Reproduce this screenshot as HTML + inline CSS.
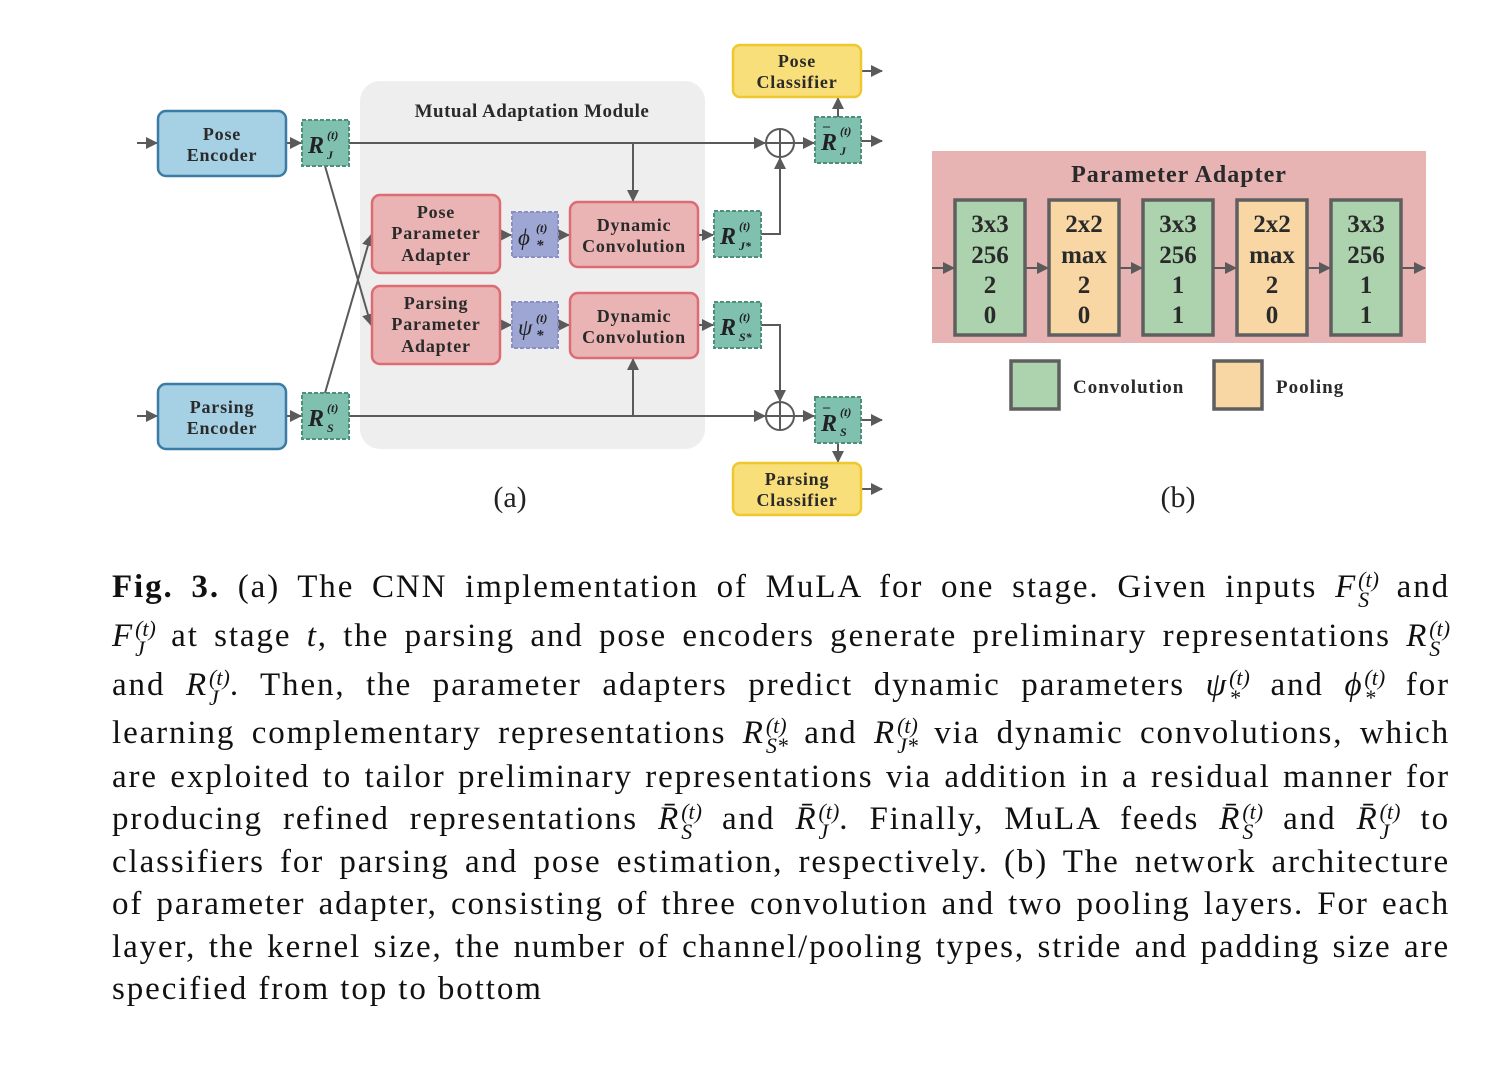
<!DOCTYPE html>
<html><head><meta charset="utf-8">
<style>
body{margin:0;background:#fff;width:1512px;height:1086px;overflow:hidden;position:relative;font-family:"Liberation Serif",serif}
svg{position:absolute;left:0;top:0}
.ln{position:absolute;left:112px;width:1338px;font-size:33px;letter-spacing:1.9px;color:#111;text-align:justify;text-align-last:justify;white-space:nowrap;line-height:40px}
.ln.last{text-align-last:left}
.m{display:inline-block;vertical-align:-10px;line-height:20px;font-size:22px;font-style:italic;margin-left:1px;letter-spacing:0}
.m span{display:block;height:20px}
</style></head><body>
<svg width="1512" height="1086" viewBox="0 0 1512 1086" font-family="Liberation Serif, serif">
<defs>
<marker id="a" markerWidth="12" markerHeight="12" refX="11" refY="6" orient="auto" markerUnits="userSpaceOnUse"><path d="M0,0 L12,6 L0,12z" fill="#5a5a5a"/></marker>
<marker id="b" markerWidth="12" markerHeight="12" refX="11" refY="6" orient="auto" markerUnits="userSpaceOnUse"><path d="M0,0 L12,6 L0,12z" fill="#5a5a5a"/></marker>
</defs>
<rect x="360" y="81" width="345" height="368" rx="20" fill="#eeeeee"/>
<text x="532" y="117" text-anchor="middle" font-weight="bold" font-size="19" fill="#2a2a2a" letter-spacing="0.5">Mutual Adaptation Module</text>
<g stroke="#5a5a5a" stroke-width="2" fill="none" marker-end="url(#b)">
<path d="M137,143 H157"/><path d="M137,416 H157"/>
<path d="M286,143 H301"/><path d="M286,416 H301"/>
<path d="M349,143 H765"/><path d="M633,143 V201"/>
<path d="M349,416 H765"/><path d="M633,416 V359"/>
<path d="M325,166 L371,325"/><path d="M325,393 L371,235"/>
<path d="M500,235 H511"/><path d="M558,235 H569"/><path d="M698,235 H713"/>
<path d="M500,325 H511"/><path d="M558,325 H569"/><path d="M698,325 H713"/>
<path d="M761,234 H780 V158"/><path d="M761,325 H780 V401"/>
<path d="M794,143 H814"/><path d="M794,416 H814"/>
<path d="M838,117 V98"/><path d="M838,443 V462"/>
<path d="M861,141 H882"/><path d="M861,420 H882"/><path d="M861,71 H882"/><path d="M861,489 H882"/>
</g>
<g stroke="#5a5a5a" stroke-width="2" fill="#fff">
<circle cx="780" cy="143" r="14"/><path d="M766,143H794M780,129V157"/>
<circle cx="780" cy="416" r="14"/><path d="M766,416H794M780,402V430"/>
</g>
<g stroke="#3a7ca5" stroke-width="2.5" fill="#a6d0e4">
<rect x="158" y="111" width="128" height="65" rx="8"/><rect x="158" y="384" width="128" height="65" rx="8"/>
</g>
<g stroke="#dc6b73" stroke-width="2.5" fill="#ebb4b4">
<rect x="372" y="195" width="128" height="78" rx="8"/><rect x="372" y="286" width="128" height="78" rx="8"/>
<rect x="570" y="202" width="128" height="65" rx="8"/><rect x="570" y="293" width="128" height="65" rx="8"/>
</g>
<g stroke="#eec82f" stroke-width="2.5" fill="#f9df79">
<rect x="733" y="45" width="128" height="52" rx="7"/><rect x="733" y="463" width="128" height="52" rx="7"/>
</g>
<g stroke="#4e8f7a" stroke-width="2" stroke-dasharray="4,2" fill="#80c0ae">
<rect x="302" y="120" width="47" height="46"/><rect x="302" y="393" width="47" height="46"/>
<rect x="714" y="211" width="47" height="46"/><rect x="714" y="302" width="47" height="46"/>
<rect x="815" y="117" width="46" height="46"/><rect x="815" y="397" width="46" height="46"/>
</g>
<g stroke="#8a8fc8" stroke-width="2" stroke-dasharray="4,2" fill="#9ea6d4">
<rect x="512" y="212" width="46" height="45"/><rect x="512" y="302" width="46" height="46"/>
</g>
<g font-weight="bold" font-size="18" fill="#2a2a2a" text-anchor="middle" letter-spacing="0.8">
<text x="222" y="140">Pose</text><text x="222" y="161">Encoder</text>
<text x="222" y="413">Parsing</text><text x="222" y="434">Encoder</text>
<text x="436" y="218">Pose</text><text x="436" y="239">Parameter</text><text x="436" y="261">Adapter</text>
<text x="436" y="309">Parsing</text><text x="436" y="330">Parameter</text><text x="436" y="352">Adapter</text>
<text x="634" y="231">Dynamic</text><text x="634" y="252">Convolution</text>
<text x="634" y="322">Dynamic</text><text x="634" y="343">Convolution</text>
<text x="797" y="67">Pose</text><text x="797" y="88">Classifier</text>
<text x="797" y="485">Parsing</text><text x="797" y="506">Classifier</text>
</g>
<g font-weight="bold" font-style="italic" fill="#222">
<text x="308" y="153" font-size="24">R</text><text x="327" y="139" font-size="12">(t)</text><text x="327" y="159" font-size="12">J</text>
<text x="308" y="426" font-size="24">R</text><text x="327" y="412" font-size="12">(t)</text><text x="327" y="432" font-size="12">S</text>
<text x="720" y="244" font-size="24">R</text><text x="739" y="230" font-size="12">(t)</text><text x="739" y="250" font-size="12">J*</text>
<text x="720" y="335" font-size="24">R</text><text x="739" y="321" font-size="12">(t)</text><text x="739" y="341" font-size="12">S*</text>
<text x="821" y="150" font-size="24">R</text><text x="823" y="130" font-size="14" font-style="normal">–</text><text x="840" y="135" font-size="12">(t)</text><text x="840" y="155" font-size="12">J</text>
<text x="821" y="431" font-size="24">R</text><text x="823" y="411" font-size="14" font-style="normal">–</text><text x="840" y="416" font-size="12">(t)</text><text x="840" y="436" font-size="12">S</text>
<text x="518" y="245" font-size="23" font-weight="normal">ϕ</text><text x="536" y="232" font-size="12">(t)</text><text x="536" y="250" font-size="15">*</text>
<text x="518" y="335" font-size="23" font-weight="normal">ψ</text><text x="536" y="322" font-size="12">(t)</text><text x="536" y="340" font-size="15">*</text>
</g>
<text x="510" y="507" text-anchor="middle" font-size="30" fill="#222">(a)</text>
<text x="1178" y="507" text-anchor="middle" font-size="30" fill="#222">(b)</text>
<rect x="932" y="151" width="494" height="192" fill="#e8b4b3"/>
<text x="1179" y="182" text-anchor="middle" font-weight="bold" font-size="24" fill="#2a2a2a" letter-spacing="1">Parameter Adapter</text>
<g stroke="#5a5a5a" stroke-width="2" fill="none" marker-end="url(#a)">
<path d="M932,268 H954"/><path d="M1025,268 H1048"/><path d="M1119,268 H1142"/><path d="M1213,268 H1236"/><path d="M1307,268 H1330"/><path d="M1401,268 H1425"/>
</g>
<g stroke="#5f5f5f" stroke-width="3.5">
<rect x="955" y="200" width="70" height="135" fill="#acd3ae"/>
<rect x="1049" y="200" width="70" height="135" fill="#f8d7a5"/>
<rect x="1143" y="200" width="70" height="135" fill="#acd3ae"/>
<rect x="1237" y="200" width="70" height="135" fill="#f8d7a5"/>
<rect x="1331" y="200" width="70" height="135" fill="#acd3ae"/>
<rect x="1011" y="361" width="48" height="48" fill="#acd3ae"/>
<rect x="1214" y="361" width="48" height="48" fill="#f8d7a5"/>
</g>
<g font-weight="bold" font-size="25" fill="#2a2a2a" text-anchor="middle">
<text x="990" y="232">3x3</text><text x="990" y="263">256</text><text x="990" y="293">2</text><text x="990" y="323">0</text>
<text x="1084" y="232">2x2</text><text x="1084" y="263">max</text><text x="1084" y="293">2</text><text x="1084" y="323">0</text>
<text x="1178" y="232">3x3</text><text x="1178" y="263">256</text><text x="1178" y="293">1</text><text x="1178" y="323">1</text>
<text x="1272" y="232">2x2</text><text x="1272" y="263">max</text><text x="1272" y="293">2</text><text x="1272" y="323">0</text>
<text x="1366" y="232">3x3</text><text x="1366" y="263">256</text><text x="1366" y="293">1</text><text x="1366" y="323">1</text>
</g>
<g font-weight="bold" font-size="19" fill="#2a2a2a" letter-spacing="1">
<text x="1073" y="393">Convolution</text><text x="1276" y="393">Pooling</text>
</g>
</svg>
<div class="ln" style="top:567px"><b>Fig. 3.</b> (a) The CNN implementation of MuLA for one stage. Given inputs <i>F</i><span class="m"><span>(t)</span><span>S</span></span> and</div>
<div class="ln" style="top:616px"><i>F</i><span class="m"><span>(t)</span><span>J</span></span> at stage <i>t</i>, the parsing and pose encoders generate preliminary representations <i>R</i><span class="m"><span>(t)</span><span>S</span></span></div>
<div class="ln" style="top:665px">and <i>R</i><span class="m"><span>(t)</span><span>J</span></span>. Then, the parameter adapters predict dynamic parameters <i>ψ</i><span class="m"><span>(t)</span><span>*</span></span> and <i>ϕ</i><span class="m"><span>(t)</span><span>*</span></span> for</div>
<div class="ln" style="top:713px">learning complementary representations <i>R</i><span class="m"><span>(t)</span><span>S*</span></span> and <i>R</i><span class="m"><span>(t)</span><span>J*</span></span> via dynamic convolutions, which</div>
<div class="ln" style="top:757px">are exploited to tailor preliminary representations via addition in a residual manner for</div>
<div class="ln" style="top:799px">producing refined representations <i>R̄</i><span class="m"><span>(t)</span><span>S</span></span> and <i>R̄</i><span class="m"><span>(t)</span><span>J</span></span>. Finally, MuLA feeds <i>R̄</i><span class="m"><span>(t)</span><span>S</span></span> and <i>R̄</i><span class="m"><span>(t)</span><span>J</span></span> to</div>
<div class="ln" style="top:842px">classifiers for parsing and pose estimation, respectively. (b) The network architecture</div>
<div class="ln" style="top:884px">of parameter adapter, consisting of three convolution and two pooling layers. For each</div>
<div class="ln" style="top:927px">layer, the kernel size, the number of channel/pooling types, stride and padding size are</div>
<div class="ln last" style="top:969px">specified from top to bottom</div>
</body></html>
